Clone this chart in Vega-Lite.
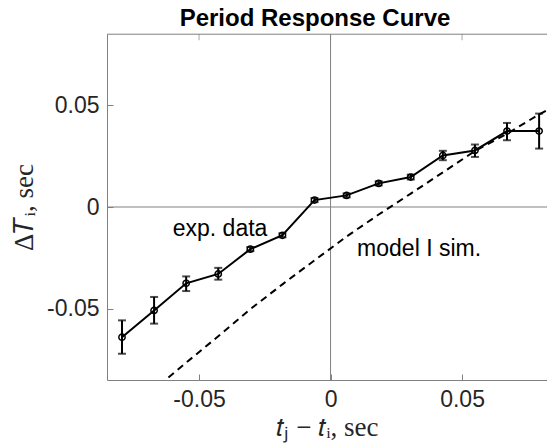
{
  "$schema": "https://vega.github.io/schema/vega-lite/v6.json",
  "width": 440,
  "height": 346,
  "autosize": "none",
  "padding": {"left": 107, "top": 34, "right": 0, "bottom": 66},
  "background": "white",
  "title": {"text": "Period Response Curve", "font": "Liberation Sans", "fontSize": 24, "fontWeight": "bold", "color": "black", "offset": 3, "dx": -12},
  "config": {
    "view": {"stroke": null},
    "axis": {
      "domainColor": "#808080", "tickColor": "#808080", "domainWidth": 1, "tickWidth": 1,
      "labelFont": "Liberation Sans", "labelFontSize": 23, "labelColor": "#262626",
      "titleFont": "Liberation Serif", "titleFontSize": 27, "titleFontWeight": "normal", "titleColor": "#262626",
      "grid": false, "tickSize": -6
    }
  },
  "datasets": {
    "exp": [
      {"x": -0.0793, "y": -0.0640, "ylo": -0.0721, "yhi": -0.0557},
      {"x": -0.0671, "y": -0.0508, "ylo": -0.0573, "yhi": -0.0442},
      {"x": -0.0549, "y": -0.0375, "ylo": -0.0413, "yhi": -0.0341},
      {"x": -0.0427, "y": -0.0329, "ylo": -0.0357, "yhi": -0.0299},
      {"x": -0.0305, "y": -0.0207, "ylo": -0.0217, "yhi": -0.0197},
      {"x": -0.0183, "y": -0.0139, "ylo": -0.0149, "yhi": -0.0129},
      {"x": -0.0061, "y": 0.0034, "ylo": 0.0024, "yhi": 0.0044},
      {"x": 0.0061, "y": 0.0057, "ylo": 0.0047, "yhi": 0.0067},
      {"x": 0.0183, "y": 0.0116, "ylo": 0.0106, "yhi": 0.0126},
      {"x": 0.0305, "y": 0.0147, "ylo": 0.0135, "yhi": 0.0159},
      {"x": 0.0427, "y": 0.0253, "ylo": 0.0230, "yhi": 0.0276},
      {"x": 0.0549, "y": 0.0278, "ylo": 0.0246, "yhi": 0.0307},
      {"x": 0.0671, "y": 0.0373, "ylo": 0.0328, "yhi": 0.0413},
      {"x": 0.0793, "y": 0.0373, "ylo": 0.0287, "yhi": 0.0459}
    ],
    "model": [
      {"x": -0.0793, "y": -0.1024},
      {"x": -0.0671, "y": -0.0896},
      {"x": -0.0549, "y": -0.0765},
      {"x": -0.0427, "y": -0.0635},
      {"x": -0.0305, "y": -0.0502},
      {"x": -0.0183, "y": -0.0380},
      {"x": -0.0061, "y": -0.0262},
      {"x": 0.0061, "y": -0.0145},
      {"x": 0.0183, "y": -0.0037},
      {"x": 0.0305, "y": 0.0066},
      {"x": 0.0427, "y": 0.0170},
      {"x": 0.0549, "y": 0.0275},
      {"x": 0.0671, "y": 0.0360},
      {"x": 0.0793, "y": 0.0455},
      {"x": 0.0915, "y": 0.0540}
    ],
    "zero": [{"v": 0}],
    "frame": [{"v": 0.0849}],
    "topticks": [{"t": -0.05, "v": 0.0849}, {"t": 0, "v": 0.0849}, {"t": 0.05, "v": 0.0849}],
    "labels": [
      {"x": -0.0600, "y": -0.0142, "text": "exp. data"},
      {"x": 0.0101, "y": -0.0240, "text": "model I sim."}
    ]
  },
  "layer": [
    {
      "data": {"name": "zero"},
      "mark": {"type": "rule", "color": "#808080", "strokeWidth": 1},
      "encoding": {"x": {"field": "v", "type": "quantitative", "title": "𝑡ⱼ − 𝑡ᵢ, sec", "scale": {"domain": [-0.085, 0.0823], "nice": false, "zero": false}}}
    },
    {
      "data": {"name": "zero"},
      "mark": {"type": "rule", "color": "#808080", "strokeWidth": 1},
      "encoding": {"y": {"field": "v", "type": "quantitative", "title": "Δ𝑇ᵢ, sec", "scale": {"domain": [-0.085, 0.085], "nice": false, "zero": false}}}
    },
    {
      "data": {"name": "frame"},
      "mark": {"type": "rule", "color": "#808080", "strokeWidth": 1},
      "encoding": {"y": {"field": "v", "type": "quantitative", "title": "Δ𝑇ᵢ, sec"}}
    },
    {
      "data": {"name": "topticks"},
      "mark": {"type": "tick", "color": "#808080", "thickness": 1, "size": 12, "orient": "vertical", "clip": true},
      "encoding": {
        "x": {"field": "t", "type": "quantitative", "title": "𝑡ⱼ − 𝑡ᵢ, sec"},
        "y": {"field": "v", "type": "quantitative", "title": "Δ𝑇ᵢ, sec"}
      }
    },
    {
      "data": {"name": "model"},
      "mark": {"type": "line", "color": "black", "strokeWidth": 2, "strokeDash": [7, 5], "clip": true},
      "encoding": {
        "x": {"field": "x", "type": "quantitative", "title": "𝑡ⱼ − 𝑡ᵢ, sec"},
        "y": {"field": "y", "type": "quantitative", "title": "Δ𝑇ᵢ, sec"}
      }
    },
    {
      "data": {"name": "exp"},
      "mark": {"type": "errorbar", "color": "black", "ticks": {"size": 8, "thickness": 2, "color": "black"}, "rule": {"strokeWidth": 2, "color": "black"}},
      "encoding": {
        "x": {"field": "x", "type": "quantitative", "title": "𝑡ⱼ − 𝑡ᵢ, sec"},
        "y": {"field": "ylo", "type": "quantitative", "title": "Δ𝑇ᵢ, sec"},
        "y2": {"field": "yhi"}
      }
    },
    {
      "data": {"name": "exp"},
      "mark": {"type": "line", "color": "black", "strokeWidth": 2},
      "encoding": {
        "x": {"field": "x", "type": "quantitative", "title": "𝑡ⱼ − 𝑡ᵢ, sec", "axis": {"values": [-0.05, 0, 0.05], "labelPadding": 14, "titlePadding": 3, "labelExpr": "datum.value == 0 ? '0' : (datum.value < 0 ? '-' : '') + format(abs(datum.value), '.2f')"}},
        "y": {"field": "y", "type": "quantitative", "title": "Δ𝑇ᵢ, sec", "axis": {"values": [-0.05, 0, 0.05], "labelPadding": 14, "titlePadding": 8, "labelExpr": "datum.value == 0 ? '0' : (datum.value < 0 ? '-' : '') + format(abs(datum.value), '.2f')"}}
      }
    },
    {
      "data": {"name": "exp"},
      "mark": {"type": "point", "shape": "circle", "filled": false, "color": "black", "size": 40, "strokeWidth": 1.5, "opacity": 1},
      "encoding": {
        "x": {"field": "x", "type": "quantitative", "title": "𝑡ⱼ − 𝑡ᵢ, sec"},
        "y": {"field": "y", "type": "quantitative", "title": "Δ𝑇ᵢ, sec"}
      }
    },
    {
      "data": {"name": "labels"},
      "mark": {"type": "text", "font": "Liberation Sans", "fontSize": 23, "color": "black", "align": "left", "baseline": "alphabetic"},
      "encoding": {
        "x": {"field": "x", "type": "quantitative", "title": "𝑡ⱼ − 𝑡ᵢ, sec"},
        "y": {"field": "y", "type": "quantitative", "title": "Δ𝑇ᵢ, sec"},
        "text": {"field": "text"}
      }
    }
  ]
}
